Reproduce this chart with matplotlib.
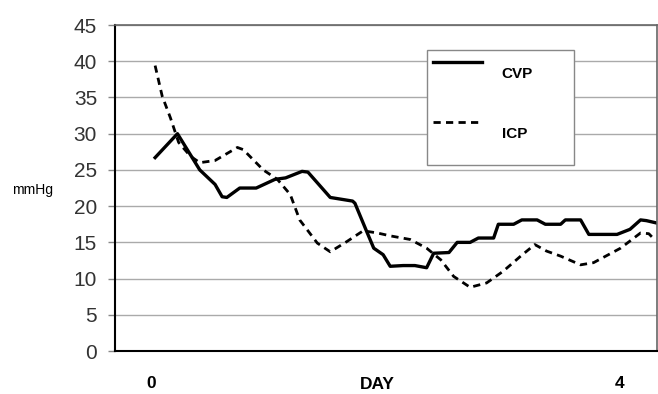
import numpy as np
import matplotlib
matplotlib.use("Agg")
import matplotlib.pyplot as plt
from matplotlib.patches import Rectangle

plt.rcParams['font.family'] = ['Liberation Sans', 'DejaVu Sans']

# values (day, mmHg)
cvp_day = [0.0, 0.19, 0.38, 0.51, 0.57, 0.61, 0.72, 0.86, 1.02, 1.11, 1.25, 1.30,
           1.49, 1.68, 1.70, 1.80, 1.86, 1.94, 2.00, 2.11, 2.21, 2.31, 2.37, 2.50,
           2.57, 2.68, 2.75, 2.88, 2.92, 3.05, 3.12, 3.25, 3.32, 3.45, 3.49, 3.62,
           3.69, 3.93, 4.04, 4.13, 4.18, 4.26]
cvp_val = [26.7, 30.0, 25.0, 23.0, 21.3, 21.2, 22.5, 22.5, 23.7, 23.9, 24.8, 24.7,
           21.2, 20.7, 20.4, 16.5, 14.2, 13.3, 11.7, 11.8, 11.8, 11.5, 13.5, 13.6,
           15.0, 15.0, 15.6, 15.6, 17.5, 17.5, 18.1, 18.1, 17.5, 17.5, 18.1, 18.1,
           16.1, 16.1, 16.8, 18.1, 18.0, 17.7]

icp_day = [0.0, 0.06, 0.13, 0.20, 0.30, 0.38, 0.51, 0.70, 0.75, 0.92, 1.04, 1.15,
           1.23, 1.38, 1.49, 1.63, 1.77, 1.89, 2.00, 2.17, 2.31, 2.43, 2.54, 2.68,
           2.82, 2.96, 3.11, 3.23, 3.33, 3.45, 3.62, 3.73, 3.96, 4.13, 4.20, 4.23]
icp_val = [39.4, 35.2, 32.2, 28.8, 26.9, 26.0, 26.3, 28.1, 27.8, 25.0, 23.7, 21.6,
           18.1, 14.9, 13.7, 15.1, 16.6, 16.3, 15.9, 15.4, 14.2, 12.6, 10.3, 8.8,
           9.4, 11.0, 13.1, 14.7, 13.8, 13.1, 11.9, 12.2, 14.2, 16.3, 16.2, 15.7]

y_ticks = [0, 5, 10, 15, 20, 25, 30, 35, 40, 45]
x_ticks = [-0.03, 3.95]
x_tick_labels = ['0', '4']

fig = plt.figure(figsize=(6.58, 3.94), dpi=100)
ax = fig.add_axes([0.175, 0.109, 0.8235, 0.8275])

ax.plot(cvp_day, cvp_val, color='black', lw=2.4, label='CVP')
ax.plot(icp_day, icp_val, color='black', lw=2.0, ls=(0, (2.6, 1.9)), label='ICP')

ax.set_xlim(-0.34, 4.27)
ax.set_ylim(0, 45)
ax.set_yticks(y_ticks)
ax.set_xticks(x_ticks)
ax.set_xticklabels(x_tick_labels)
ax.tick_params(axis='y', labelsize=15, length=5, color='#888888', width=1, pad=8,
               labelcolor='#333333')
ax.tick_params(axis='x', labelsize=12.5, length=0, pad=18)
for lab in ax.get_xticklabels():
    lab.set_fontweight('bold')
ax.yaxis.grid(True, color='#aaaaaa', lw=1.0)
ax.set_axisbelow(True)

for side in ['left', 'bottom']:
    ax.spines[side].set_color('black')
    ax.spines[side].set_linewidth(1.5)
for side in ['top', 'right']:
    ax.spines[side].set_color('#666666')
    ax.spines[side].set_linewidth(1.2)

ax.set_xlabel('DAY', fontsize=12.5, fontweight='bold', va='center')
ax.xaxis.set_label_coords(0.483, -0.104)
ax.set_ylabel('mmHg', fontsize=10, rotation=0, ha='left', va='center')
ax.yaxis.set_label_coords(-0.19, 0.495)

# legend box
ax.add_patch(Rectangle((0.575, 0.571), 0.272, 0.352, transform=ax.transAxes,
                       facecolor='white', edgecolor='#888888', lw=1.0, zorder=4))
leg = ax.legend(loc='upper left', bbox_to_anchor=(0.575, 0.923), frameon=False,
                fontsize=11, handlelength=3.2, labelspacing=3.0, borderpad=0.4,
                handletextpad=1.3, borderaxespad=0)
leg.set_zorder(5)
for t in leg.get_texts():
    t.set_fontweight('bold')
    t.set_va('top')

fig.savefig('out.png', dpi=100)
